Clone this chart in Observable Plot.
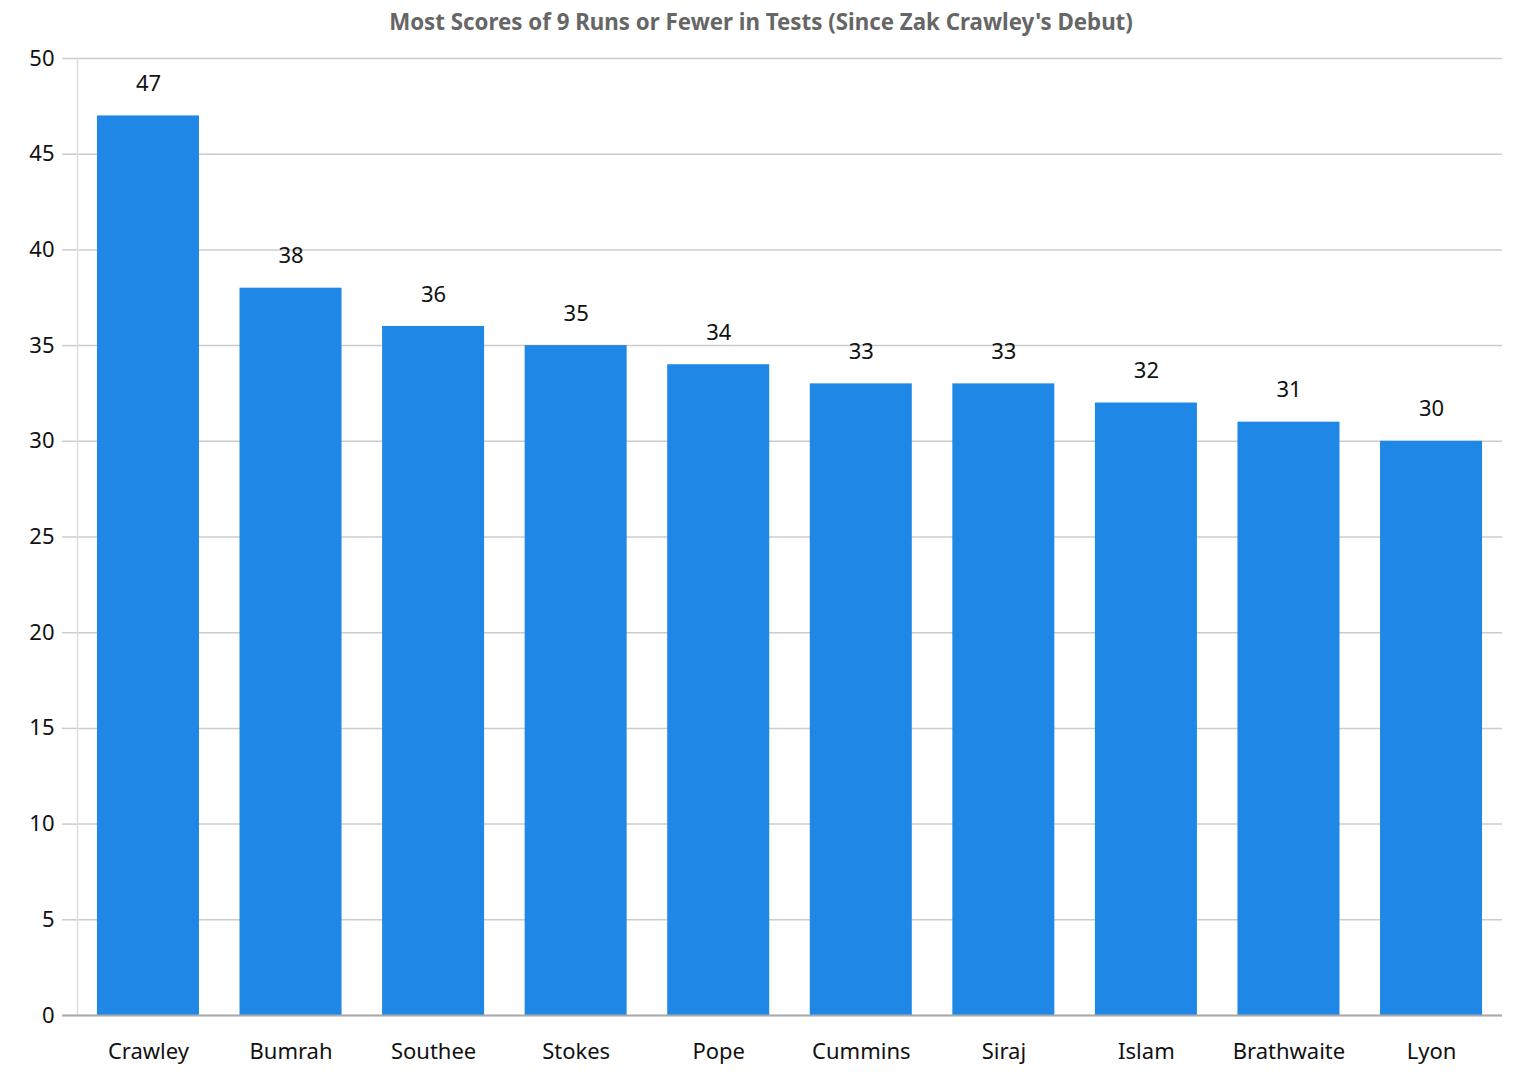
<!DOCTYPE html>
<html>
<head>
<meta charset="utf-8">
<script src="https://cdn.jsdelivr.net/npm/d3@7"></script>
<script src="https://cdn.jsdelivr.net/npm/@observablehq/plot@0.6"></script>
<style>
  body { margin: 0; background: #fff; font-family: "Noto Sans", sans-serif; }
  #title { height: 30px; line-height: 30px; padding-top: 7px; text-align: center; font-size: 22.3px; font-weight: bold; color: #666; width: 1522px; }
</style>
</head>
<body>
<div id="title">Most Scores of 9 Runs or Fewer in Tests (Since Zak Crawley's Debut)</div>
<div id="chart"></div>
<script>
const players = ["Crawley","Bumrah","Southee","Stokes","Pope","Cummins","Siraj","Islam","Brathwaite","Lyon"];
const scores = [47,38,36,35,34,33,33,32,31,30];
const yTicks = [0,5,10,15,20,25,30,35,40,45,50];

const data = players.map((p, i) => ({player: p, value: scores[i]}));

const chart = Plot.plot({
  width: 1522,
  height: 1055,
  marginTop: 21,
  marginBottom: 77,
  marginLeft: 77,
  marginRight: 20,
  style: {fontFamily: "Noto Sans, sans-serif", fontSize: "22px", color: "#111"},
  x: {domain: players, paddingInner: 0.2845, paddingOuter: 0.14, round: false, label: null},
  y: {domain: [0, 50], label: null},
  marks: [
    Plot.gridY(yTicks, {stroke: "#ccc", strokeOpacity: 1, strokeWidth: 1.5}),
    Plot.axisY(yTicks, {tickSize: 15, tickPadding: 8, stroke: "#ccc", strokeWidth: 1.5, fontSize: 22, fill: "#111", label: null}),
    Plot.frame({anchor: "left", stroke: "#ddd", strokeWidth: 1.5}),
    Plot.barY(data, {x: "player", y: "value", fill: "#1f87e5"}),
    Plot.ruleY([0], {stroke: "#aaa", strokeWidth: 2, insetLeft: -15}),
    Plot.text(data, {x: "player", y: "value", text: d => String(d.value), dy: -32, fontSize: 22, fill: "#111"}),
    Plot.axisX({tickSize: 0, tickPadding: 28, fontSize: 22, fill: "#111", label: null})
  ]
});
document.getElementById("chart").appendChild(chart);
</script>
</body>
</html>
